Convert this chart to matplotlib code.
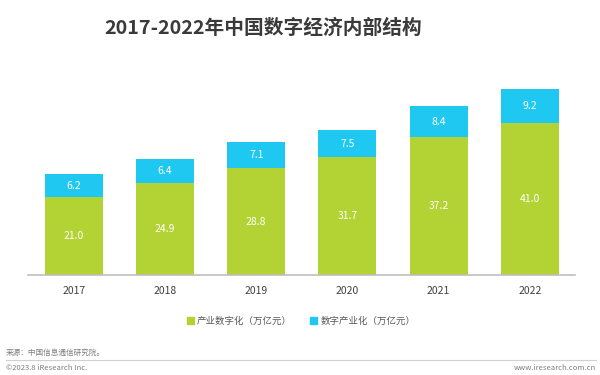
import matplotlib
matplotlib.use("Agg")
from matplotlib import pyplot as plt
from matplotlib.patches import Patch
from matplotlib.lines import Line2D

plt.rcParams['font.family'] = ['Noto Sans CJK SC', 'DejaVu Sans']

years = ['2017', '2018', '2019', '2020', '2021', '2022']
industry_digital = [21.0, 24.9, 28.8, 31.7, 37.2, 41.0]   # 产业数字化
digital_industry = [6.2, 6.4, 7.1, 7.5, 8.4, 9.2]         # 数字产业化

green = '#B3D234'
blue = '#1EC8F0'

fig = plt.figure(figsize=(6, 3.75), dpi=100)
ax = fig.add_axes([0.047, 1 - 275 / 375, 0.912, 215 / 375])

x = range(len(years))
ax.bar(x, industry_digital, width=0.635, color=green, label='产业数字化（万亿元）')
ax.bar(x, digital_industry, width=0.635, bottom=industry_digital, color=blue,
       label='数字产业化（万亿元）')

for i in x:
    g = industry_digital[i]
    b = digital_industry[i]
    ax.text(i, g / 2, f'{g:.1f}', ha='center', va='center', color='white', fontsize=7.5)
    ax.text(i, g + b / 2, f'{b:.1f}', ha='center', va='center', color='white', fontsize=7.5)

ax.set_xlim(-0.5, 5.5)
ax.set_ylim(0, 58)
ax.set_xticks(list(x))
ax.set_xticklabels(years, fontsize=7.5, color='#404040')
ax.tick_params(axis='x', length=0, pad=8)
ax.set_yticks([])
for s in ['top', 'right', 'left']:
    ax.spines[s].set_visible(False)
ax.spines['bottom'].set_color('#BFBFBF')
ax.spines['bottom'].set_linewidth(1.2)

fig.text(263 / 600, 1 - 28 / 375, '2017-2022年中国数字经济内部结构', ha='center', va='center',
         fontsize=14.2, fontweight='bold', color='#3A3A3A')

handles = [Patch(color=green), Patch(color=blue)]
fig.legend(handles, ['产业数字化（万亿元）', '数字产业化（万亿元）'],
           loc='center', bbox_to_anchor=(301 / 600, 1 - 321 / 375), ncol=2, frameon=False,
           fontsize=6.8, handlelength=0.75, handleheight=0.75, handletextpad=0.35,
           columnspacing=1.9, labelcolor='#595959')

fig.text(6 / 600, 1 - 353 / 375, '来源：中国信息通信研究院。', fontsize=5.5, color='#7F7F7F',
         ha='left', va='center')
fig.add_artist(Line2D([6 / 600, 596 / 600], [1 - 360 / 375] * 2, color='#D0D0D0', lw=0.8))
fig.text(6 / 600, 1 - 368 / 375, '©2023.8 iResearch Inc.', fontsize=5.5, color='#7F7F7F',
         ha='left', va='center')
fig.text(596 / 600, 1 - 368 / 375, 'www.iresearch.com.cn', fontsize=5.5, color='#7F7F7F',
         ha='right', va='center')

fig.savefig('out.png', dpi=100)
